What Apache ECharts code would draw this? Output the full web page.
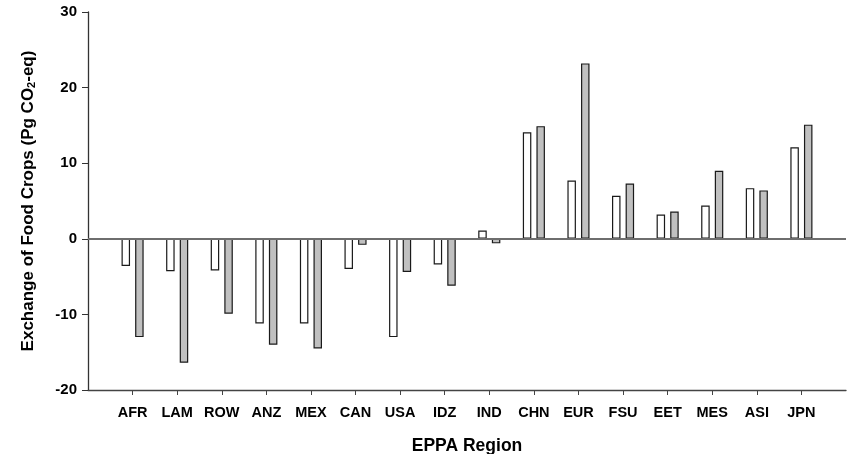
<!DOCTYPE html>
<html>
<head>
<meta charset="utf-8">
<script src="https://cdn.jsdelivr.net/npm/echarts@6/dist/echarts.min.js"></script>
<style>
  html, body { margin: 0; padding: 0; background: #fff; }
  #chart { width: 851px; height: 454px; }
</style>
</head>
<body>
<div id="chart"></div>
<script>
var regions = ['AFR', 'LAM', 'ROW', 'ANZ', 'MEX', 'CAN', 'USA', 'IDZ', 'IND', 'CHN', 'EUR', 'FSU', 'EET', 'MES', 'ASI', 'JPN'];
// open bars
var openValues = [-3.6, -4.3, -4.2, -11.2, -11.2, -4.0, -13.0, -3.4, 1.1, 14.1, 7.7, 5.7, 3.2, 4.4, 6.7, 12.1];
// grey bars
var greyValues = [-13.0, -16.4, -9.9, -14.0, -14.5, -0.8, -4.4, -6.2, -0.6, 14.9, 23.2, 7.3, 3.6, 9.0, 6.4, 15.1];
var yTicks = { min: -20, max: 30, step: 10 };

var font = "'Liberation Sans', Arial, sans-serif";

// empty slot at each end, like the original plot's spacing
var axisCats = [''].concat(regions, ['']);

function pairs(values) {
    return regions.map(function (r, i) { return [r, values[i]]; });
}

var chart = echarts.init(document.getElementById('chart'));
chart.setOption({
    animation: false,
    textStyle: { fontFamily: font },
    grid: { left: 88, right: 5, top: 12, bottom: 64, containLabel: false, outerBoundsMode: 'none' },
    xAxis: {
        type: 'category',
        data: axisCats,
        boundaryGap: false,
        name: 'EPPA Region',
        nameLocation: 'middle',
        nameGap: 47,
        nameTextStyle: { fontSize: 17.5, fontWeight: 'bold', color: '#000', fontFamily: font },
        axisLine: { onZero: false, lineStyle: { color: '#444', width: 1.3 } },
        axisTick: {
            length: 5,
            lineStyle: { color: '#444' },
            interval: function (i, v) { return v !== ''; }
        },
        axisLabel: {
            interval: 0,
            margin: 15,
            fontSize: 14.5,
            fontWeight: 'bold',
            color: '#000',
            fontFamily: font
        },
        splitLine: { show: false }
    },
    yAxis: {
        type: 'value',
        min: yTicks.min,
        max: yTicks.max,
        interval: yTicks.step,
        name: '{a|Exchange of Food Crops (Pg CO}{s|2}{a|-eq)}',
        nameLocation: 'middle',
        nameGap: 51,
        nameRotate: 90,
        nameTextStyle: {
            rich: {
                a: { fontSize: 17, fontWeight: 'bold', color: '#000', fontFamily: font },
                s: { fontSize: 11, fontWeight: 'bold', color: '#000', fontFamily: font, padding: [7, 0, 0, 0] }
            }
        },
        axisLine: { show: true, lineStyle: { color: '#333', width: 1.3 } },
        axisTick: { show: true, length: 6, lineStyle: { color: '#333' } },
        axisLabel: { margin: 11, fontSize: 15, fontWeight: 'bold', color: '#000', fontFamily: font },
        splitLine: { show: false }
    },
    series: [
        {
            type: 'bar',
            data: pairs(openValues),
            barWidth: 8.5,
            barGap: '60%',
            itemStyle: { color: '#ffffff', borderColor: '#1a1a1a', borderWidth: 1.2 },
            markLine: {
                silent: true,
                symbol: 'none',
                label: { show: false },
                lineStyle: { color: '#6e6e6e', width: 2, type: 'solid' },
                data: [{ yAxis: 0 }]
            }
        },
        {
            type: 'bar',
            data: pairs(greyValues),
            barWidth: 8.5,
            barGap: '60%',
            itemStyle: { color: '#c0c0c0', borderColor: '#1a1a1a', borderWidth: 1.2 }
        }
    ]
});
</script>
</body>
</html>
